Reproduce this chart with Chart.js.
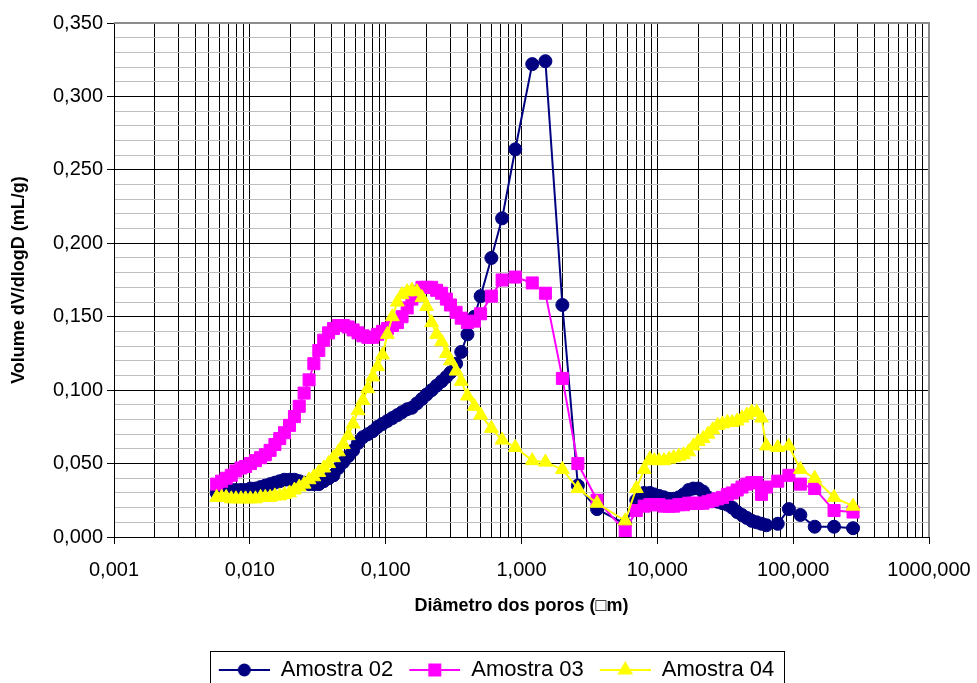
<!DOCTYPE html>
<html>
<head>
<meta charset="utf-8">
<script src="https://cdn.jsdelivr.net/npm/chart.js@4.4.1/dist/chart.umd.min.js"></script>
<style>
  html, body { margin: 0; padding: 0; background: #fff; }
</style>
</head>
<body>
<canvas id="poros" width="977" height="683"></canvas>
<script>
// pore diameter (um), shared by the three samples
const diametro = [0.0057, 0.0062, 0.0067, 0.0073, 0.0079, 0.0086, 0.0093, 0.0101, 0.011, 0.012,
  0.013, 0.0141, 0.0153, 0.0166, 0.018, 0.0196, 0.0213, 0.0231, 0.0251, 0.0273,
  0.0296, 0.0322, 0.035, 0.038, 0.0413, 0.0449, 0.0488, 0.053, 0.0576, 0.0626,
  0.068, 0.0739, 0.0803, 0.0873, 0.0948, 0.103, 0.112, 0.122, 0.132, 0.144,
  0.156, 0.17, 0.185, 0.2, 0.218, 0.237, 0.258, 0.28, 0.30,
  0.33, 0.36, 0.40, 0.45, 0.50, 0.60, 0.72, 0.90, 1.2, 1.5, 2.0, 2.6, 3.6, 5.8, 7.0, 8.0,
  8.8, 9.5, 10.3, 11.2, 12.2, 13.2, 14.4, 15.6, 17, 18.4, 20, 21.7, 23.6, 25.6, 27.8,
  30.2, 32.8, 35.6, 38.7, 42, 45.6, 49.6, 53.9, 58.5, 63.5,
  77, 93, 113, 144, 200, 276];

const amostra02 = [0.030, 0.031, 0.031, 0.032, 0.032, 0.032, 0.032, 0.033, 0.033, 0.034,
  0.035, 0.036, 0.037, 0.038, 0.039, 0.039, 0.039, 0.038, 0.037, 0.036,
  0.036, 0.036, 0.038, 0.040, 0.042, 0.047, 0.051, 0.055, 0.059, 0.064,
  0.068, 0.070, 0.072, 0.075, 0.077, 0.079, 0.081, 0.083, 0.085, 0.087,
  0.088, 0.091, 0.094, 0.097, 0.100, 0.103, 0.106, 0.109, 0.112,
  0.118, 0.126, 0.138, 0.150, 0.164, 0.190, 0.217, 0.264, 0.322, 0.324, 0.158, 0.035, 0.019, 0.009, 0.025, 0.030,
  0.030, 0.029, 0.028, 0.027, 0.026, 0.026, 0.027, 0.029, 0.032, 0.033, 0.033, 0.031, 0.027, 0.025, 0.024,
  0.023, 0.022, 0.020, 0.017, 0.015, 0.013, 0.011, 0.010, 0.009, 0.008,
  0.009, 0.019, 0.015, 0.007, 0.007, 0.006];

const amostra03 = [0.036, 0.038, 0.040, 0.042, 0.045, 0.047, 0.048, 0.050, 0.052, 0.054,
  0.056, 0.059, 0.063, 0.067, 0.071, 0.076, 0.082, 0.089, 0.098, 0.107,
  0.118, 0.127, 0.134, 0.139, 0.142, 0.144, 0.144, 0.143, 0.141, 0.139,
  0.137, 0.136, 0.136, 0.138, 0.140, 0.142, 0.144, 0.146, 0.150, 0.156,
  0.162, 0.167, 0.170, 0.170, 0.170, 0.168, 0.166, 0.162, 0.158,
  0.153, 0.149, 0.146, 0.147, 0.152, 0.164, 0.175, 0.177, 0.173, 0.166, 0.108, 0.050, 0.025, 0.004, 0.018, 0.021,
  0.022, 0.022, 0.022, 0.021, 0.021, 0.021, 0.022, 0.022, 0.023, 0.023, 0.023, 0.023, 0.024, 0.025, 0.026,
  0.027, 0.029, 0.030, 0.032, 0.034, 0.036, 0.037, 0.037, 0.029, 0.034,
  0.038, 0.042, 0.036, 0.033, 0.018, 0.017];

const amostra04 = [0.027, 0.027, 0.027, 0.026, 0.026, 0.026, 0.026, 0.026, 0.026, 0.027,
  0.027, 0.027, 0.028, 0.028, 0.029, 0.030, 0.032, 0.034, 0.036, 0.039,
  0.041, 0.044, 0.047, 0.050, 0.054, 0.058, 0.063, 0.069, 0.077, 0.086,
  0.093, 0.101, 0.109, 0.116, 0.124, 0.138, 0.150, 0.160, 0.165, 0.167,
  0.168, 0.167, 0.163, 0.157, 0.146, 0.138, 0.133, 0.125, 0.120,
  0.113, 0.106, 0.096, 0.089, 0.083, 0.074, 0.066, 0.061, 0.052, 0.051, 0.046, 0.033, 0.023, 0.011, 0.033, 0.046,
  0.053, 0.052, 0.052, 0.052, 0.053, 0.054, 0.055, 0.056, 0.058, 0.062, 0.065, 0.067, 0.070, 0.073, 0.076,
  0.077, 0.078, 0.078, 0.079, 0.081, 0.083, 0.085, 0.085, 0.081, 0.062,
  0.061, 0.062, 0.046, 0.040, 0.027, 0.021];

const seriesNames = ['Amostra 02', 'Amostra 03', 'Amostra 04'];
const decades = [0.001, 0.01, 0.1, 1, 10, 100, 1000];
const yMajor = [0, 0.05, 0.1, 0.15, 0.2, 0.25, 0.3, 0.35];

// minor ticks 2..9 inside every decade, minor y step 0.01
const xTicks = [];
decades.forEach((d, i) => {
  xTicks.push(d);
  if (i < decades.length - 1) for (let k = 2; k <= 9; k++) xTicks.push(+(d * k).toPrecision(3));
});
const yTicks = [];
for (let i = 0; i <= 35; i++) yTicks.push(i / 100);

const isDecade = v => decades.some(d => Math.abs(d - v) / d < 1e-6);
const isMajorY = v => yMajor.some(m => Math.abs(m - v) < 1e-9);
const virgula = v => v.toFixed(3).replace('.', ',');

function pts(values) {
  return diametro.map((d, i) => ({ x: d, y: values[i] }));
}

// legend icon: line with marker in the middle
function legendIcon(color, style, r) {
  const c = document.createElement('canvas');
  c.width = 57; c.height = 22;
  const g = c.getContext('2d');
  g.strokeStyle = color; g.fillStyle = color; g.lineWidth = 2;
  g.beginPath(); g.moveTo(6, 11); g.lineTo(57, 11); g.stroke();
  const cx = 31.5, cy = 11;
  g.beginPath();
  if (style === 'circle') g.arc(cx, cy, r, 0, Math.PI * 2);
  if (style === 'rect') g.rect(cx - r, cy - r, 2 * r, 2 * r);
  if (style === 'triangle') {
    g.moveTo(cx, cy - r);
    g.lineTo(cx + 0.866 * r, cy + 0.5 * r);
    g.lineTo(cx - 0.866 * r, cy + 0.5 * r);
    g.closePath();
  }
  g.fill();
  return c;
}
const icons = [
  legendIcon('#000080', 'circle', 6.5),
  legendIcon('#FF00FF', 'rect', 6.5),
  legendIcon('#FFFF00', 'triangle', 9)
];

// gray plot frame, legend nudge + legend box
const molduras = {
  id: 'molduras',
  afterLayout(chart) {
    const lg = chart.legend;
    lg.left += 29; lg.right += 29;
    lg.top += 8; lg.bottom += 8;
  },
  beforeDatasetsDraw(chart) {
    const { ctx, chartArea: a } = chart;
    ctx.save();
    ctx.strokeStyle = '#8c8c8c';
    ctx.lineWidth = 2;
    ctx.beginPath();
    ctx.moveTo(a.left, a.top);
    ctx.lineTo(a.right, a.top);
    ctx.lineTo(a.right, a.bottom);
    ctx.stroke();
    ctx.restore();
  },
  afterDraw(chart) {
    const hb = chart.legend.legendHitBoxes;
    if (!hb || !hb.length) return;
    const ctx = chart.ctx;
    const left = Math.round(hb[0].left) - 2.5;
    const right = Math.round(hb[hb.length - 1].left + hb[hb.length - 1].width) + 10.5;
    const top = Math.round(hb[0].top) - 7.5;
    ctx.save();
    ctx.strokeStyle = '#000';
    ctx.lineWidth = 1;
    ctx.strokeRect(left, top, right - left, 60);
    ctx.restore();
  }
};

Chart.defaults.font.family = "'Liberation Sans', Arial, sans-serif";
Chart.defaults.color = '#000';

new Chart(document.getElementById('poros'), {
  type: 'line',
  data: {
    datasets: [
      { label: seriesNames[0], data: pts(amostra02), borderColor: '#000080', backgroundColor: '#000080',
        pointStyle: 'circle', pointRadius: 6.5, borderWidth: 2, pointBorderWidth: 1, order: 3 },
      { label: seriesNames[1], data: pts(amostra03), borderColor: '#FF00FF', backgroundColor: '#FF00FF',
        pointStyle: 'rect', pointRadius: 8.5, borderWidth: 2, pointBorderWidth: 1, order: 2 },
      { label: seriesNames[2], data: pts(amostra04), borderColor: '#FFFF00', backgroundColor: '#FFFF00',
        pointStyle: 'triangle', pointRadius: 8, borderWidth: 2, pointBorderWidth: 1, order: 1 }
    ]
  },
  options: {
    responsive: false,
    animation: false,
    devicePixelRatio: 1,
    layout: { padding: { top: 23, right: 48, bottom: 0, left: 0 } },
    plugins: {
      tooltip: { enabled: false },
      legend: {
        position: 'bottom',
        labels: {
          usePointStyle: true,
          pointStyleWidth: 57,
          padding: 10,
          font: { size: 22 },
          color: '#000',
          sort: (a, b) => a.datasetIndex - b.datasetIndex,
          generateLabels: chart => Chart.defaults.plugins.legend.labels.generateLabels(chart)
            .map(l => Object.assign(l, { pointStyle: icons[l.datasetIndex] }))
        }
      }
    },
    scales: {
      x: {
        type: 'logarithmic',
        min: 0.001,
        max: 1000,
        afterBuildTicks: s => { s.ticks = xTicks.map(v => ({ value: v })); },
        afterFit: s => { s.height = 104; s.paddingRight = 0; s.paddingLeft = 0; },
        ticks: {
          autoSkip: false, maxRotation: 0, minRotation: 0, padding: 14,
          font: { size: 20 }, color: '#000',
          callback: v => isDecade(v) ? virgula(v) : ''
        },
        grid: {
          color: '#000', lineWidth: 1, tickLength: 7,
          tickColor: c => (c.tick && isDecade(c.tick.value)) ? '#000' : 'rgba(0,0,0,0)'
        },
        border: { color: '#000', width: 1 },
        title: {
          display: true, text: 'Diâmetro dos poros (\u25A1m)', color: '#000',
          font: { size: 18, weight: 'bold' }, padding: { top: 0, bottom: 24 }
        }
      },
      y: {
        min: 0,
        max: 0.35,
        afterBuildTicks: s => { s.ticks = yTicks.map(v => ({ value: v })); },
        afterFit: s => { s.width = 114; },
        ticks: {
          autoSkip: false, padding: 4, font: { size: 20 }, color: '#000',
          callback: v => isMajorY(v) ? virgula(v) : ''
        },
        grid: {
          lineWidth: 1, tickLength: 7,
          color: c => (c.tick && isMajorY(c.tick.value)) ? '#000' : '#bdbdbd',
          tickColor: c => (c.tick && isMajorY(c.tick.value)) ? '#000' : 'rgba(0,0,0,0)'
        },
        border: { color: '#000', width: 1 },
        title: {
          display: true, text: 'Volume dV/dlogD (mL/g)', color: '#000',
          font: { size: 18, weight: 'bold' }, padding: { top: 8, bottom: 0 }
        }
      }
    }
  },
  plugins: [molduras]
});
</script>
</body>
</html>
